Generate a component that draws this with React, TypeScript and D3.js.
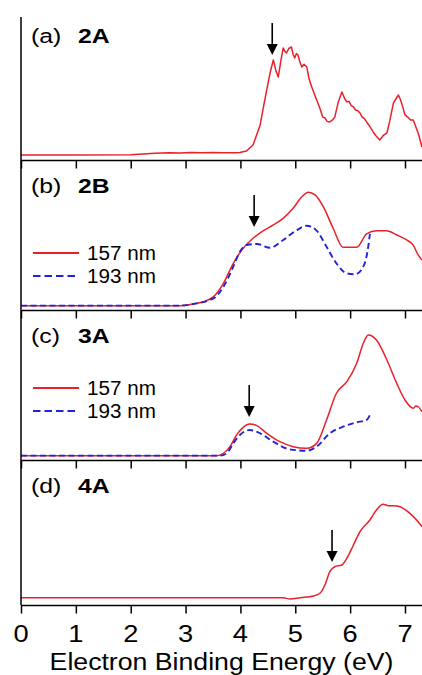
import React, { useEffect, useRef } from "react";
import * as d3 from "d3";

// photoelectron spectra: [binding energy (eV), intensity (arb. units)]
const spec2A: [number, number][] = [
  [0, 0.035], [1.0, 0.035], [2.0, 0.036], [2.44, 0.047], [2.7, 0.05], [2.9, 0.049],
  [3.1, 0.052], [3.3, 0.051], [3.5, 0.052], [3.7, 0.05], [3.9, 0.05], [3.99, 0.052],
  [4.11, 0.063], [4.23, 0.105], [4.36, 0.245], [4.42, 0.371], [4.48, 0.49], [4.54, 0.608],
  [4.6, 0.7], [4.65, 0.62], [4.69, 0.58], [4.74, 0.7], [4.78, 0.783], [4.81, 0.76],
  [4.84, 0.748], [4.88, 0.78], [4.93, 0.79], [4.96, 0.74], [4.99, 0.713], [5.02, 0.745],
  [5.05, 0.734], [5.08, 0.69], [5.12, 0.65], [5.16, 0.67], [5.21, 0.65], [5.25, 0.57],
  [5.3, 0.51], [5.34, 0.47], [5.39, 0.42], [5.45, 0.36], [5.5, 0.3], [5.54, 0.294],
  [5.58, 0.27], [5.63, 0.266], [5.68, 0.28], [5.72, 0.3], [5.78, 0.4], [5.85, 0.476],
  [5.9, 0.43], [5.94, 0.406], [5.98, 0.41], [6.02, 0.38], [6.06, 0.371], [6.1, 0.35],
  [6.14, 0.345], [6.18, 0.329], [6.22, 0.3], [6.26, 0.29], [6.3, 0.266], [6.35, 0.24],
  [6.42, 0.196], [6.47, 0.17], [6.54, 0.14], [6.6, 0.17], [6.67, 0.189], [6.72, 0.27],
  [6.79, 0.399], [6.84, 0.43], [6.88, 0.455], [6.92, 0.42], [6.96, 0.37], [7.0, 0.315],
  [7.05, 0.3], [7.1, 0.28], [7.15, 0.28], [7.19, 0.24], [7.24, 0.189], [7.31, 0.091],
];

const spec2B_157: [number, number][] = [
  [0, 0.029], [2.9, 0.029], [3.14, 0.04], [3.32, 0.055], [3.51, 0.089], [3.69, 0.178],
  [3.87, 0.311], [4.05, 0.411], [4.23, 0.478], [4.42, 0.529], [4.6, 0.567], [4.78, 0.611],
  [4.96, 0.678], [5.12, 0.755], [5.24, 0.785], [5.36, 0.767], [5.51, 0.689], [5.69, 0.545],
  [5.87, 0.418], [6.12, 0.418], [6.3, 0.507], [6.48, 0.529], [6.67, 0.529], [6.85, 0.5],
  [7.03, 0.467], [7.15, 0.433], [7.24, 0.367], [7.31, 0.333],
];

const spec2B_193: [number, number][] = [
  [0, 0.029], [2.9, 0.029], [3.14, 0.04], [3.51, 0.078], [3.69, 0.155], [3.87, 0.289],
  [3.99, 0.389], [4.11, 0.433], [4.3, 0.44], [4.54, 0.415], [4.78, 0.467], [5.03, 0.533],
  [5.21, 0.562], [5.39, 0.529], [5.57, 0.422], [5.75, 0.311], [5.94, 0.244], [6.09, 0.238],
  [6.24, 0.289], [6.33, 0.422], [6.36, 0.507],
];

const spec3A_157: [number, number][] = [
  [0, 0.029], [3.57, 0.029], [3.69, 0.045], [3.81, 0.089], [3.93, 0.167], [4.05, 0.218],
  [4.17, 0.24], [4.3, 0.229], [4.48, 0.178], [4.72, 0.122], [4.96, 0.089], [5.21, 0.078],
  [5.39, 0.111], [5.57, 0.267], [5.75, 0.445], [5.94, 0.522], [6.12, 0.645], [6.24, 0.778],
  [6.33, 0.833], [6.48, 0.8], [6.67, 0.667], [6.85, 0.511], [7.0, 0.4], [7.15, 0.345],
  [7.2, 0.36], [7.24, 0.355], [7.31, 0.322],
];

const spec3A_193: [number, number][] = [
  [0, 0.029], [3.63, 0.029], [3.75, 0.045], [3.87, 0.111], [3.99, 0.167], [4.17, 0.2],
  [4.36, 0.178], [4.6, 0.122], [4.9, 0.071], [5.21, 0.062], [5.39, 0.089], [5.63, 0.178],
  [5.87, 0.222], [6.12, 0.251], [6.3, 0.267], [6.36, 0.3],
];

const spec4A: [number, number][] = [
  [0, 0.05], [4.78, 0.05], [4.9, 0.041], [5.09, 0.05], [5.33, 0.062], [5.45, 0.081],
  [5.54, 0.138], [5.63, 0.23], [5.72, 0.264], [5.85, 0.276], [5.94, 0.322], [6.06, 0.414],
  [6.18, 0.506], [6.36, 0.586], [6.48, 0.655], [6.6, 0.694], [6.7, 0.685], [6.79, 0.685],
  [6.91, 0.678], [7.09, 0.632], [7.24, 0.574], [7.31, 0.54],
];

const panelTags = ["(a)", "(b)", "(c)", "(d)"];
const molecules = ["2A", "2B", "3A", "4A"];
const legendLabels = ["157 nm", "193 nm"];
const arrowEnergy = [4.58, 4.25, 4.16, 5.67];
const arrowTip = [0.734, 0.553, 0.287, 0.297];
const xTickLabels = [0, 1, 2, 3, 4, 5, 6, 7];

const RED = "#e8202a";
const BLUE = "#2222d8";
const FONT = "'Liberation Sans', Arial, sans-serif";

function App() {
  const ref = useRef<SVGSVGElement>(null);

  useEffect(() => {
    const svg = d3.select(ref.current);
    svg.selectAll("*").remove();

    const width = 422;
    const xMax = 7.31;
    const x = d3.scaleLinear().domain([0, xMax]).range([21, width]);

    const panels = [
      { top: 17, bottom: 160, labelY: 43, series: [{ d: spec2A, c: RED, dash: null }], legend: null },
      {
        top: 160, bottom: 310, labelY: 193,
        series: [{ d: spec2B_157, c: RED, dash: null }, { d: spec2B_193, c: BLUE, dash: "6,3.5" }],
        legend: 253,
      },
      {
        top: 310, bottom: 460, labelY: 343,
        series: [{ d: spec3A_157, c: RED, dash: null }, { d: spec3A_193, c: BLUE, dash: "6,3.5" }],
        legend: 388,
      },
      { top: 460, bottom: 605, labelY: 493, series: [{ d: spec4A, c: RED, dash: null }], legend: null },
    ];

    const stretched = (sel, tx, ty, sx = 1.16) =>
      sel.attr("transform", "translate(" + tx + "," + ty + ") scale(" + sx + ",1)");

    panels.forEach(function (p, i) {
      const y = d3.scaleLinear().domain([0, 1]).range([p.bottom, p.top]);
      const line = d3
        .line<[number, number]>()
        .x((d) => x(d[0]))
        .y((d) => y(d[1]))
        .curve(i === 0 ? d3.curveLinear : d3.curveMonotoneX);

      p.series.forEach(function (s) {
        svg
          .append("path")
          .datum(s.d)
          .attr("d", line)
          .attr("fill", "none")
          .attr("stroke", s.c)
          .attr("stroke-width", s.dash ? 1.9 : 1.5)
          .attr("stroke-dasharray", s.dash)
          .attr("stroke-linejoin", "round");
      });

      // arrow marking the feature
      const ax = x(arrowEnergy[i]);
      const tipY = y(arrowTip[i]);
      svg
        .append("line")
        .attr("x1", ax).attr("x2", ax)
        .attr("y1", tipY - 32).attr("y2", tipY - 9)
        .attr("stroke", "#000").attr("stroke-width", 1.6);
      svg
        .append("path")
        .attr("d", "M" + (ax - 5.5) + "," + (tipY - 11) + "L" + (ax + 5.5) + "," + (tipY - 11) + "L" + ax + "," + tipY + "Z")
        .attr("fill", "#000");

      // panel label
      stretched(svg.append("text"), 31, p.labelY, 1.18)
        .attr("font-family", FONT).attr("font-size", 21)
        .text(panelTags[i]);
      stretched(svg.append("text"), 78, p.labelY, 1.18)
        .attr("font-family", FONT).attr("font-size", 21).attr("font-weight", "bold")
        .text(molecules[i]);

      // legend
      if (p.legend !== null) {
        [RED, BLUE].forEach(function (c, k) {
          const ly = p.legend + k * 23;
          svg
            .append("line")
            .attr("x1", 33).attr("x2", 79)
            .attr("y1", ly).attr("y2", ly)
            .attr("stroke", c).attr("stroke-width", 2.2)
            .attr("stroke-dasharray", k === 1 ? "7.5,4" : null);
          stretched(svg.append("text"), 87, ly + 7, 1.06)
            .attr("font-family", FONT).attr("font-size", 19.5)
            .text(legendLabels[k]);
        });
      }

      // boundary line with inward ticks below it
      const g = svg.append("g").attr("transform", "translate(0," + p.bottom + ")");
      g.call(
        d3.axisBottom(x)
          .tickValues(d3.range(0, xMax, 0.2).filter((v) => Math.abs(v - Math.round(v)) > 0.01))
          .tickSize(4).tickSizeOuter(0).tickFormat(() => "")
      );
      g.call(
        d3.axisBottom(x).tickValues(xTickLabels).tickSize(8.5).tickSizeOuter(0).tickFormat(() => "")
      );
      g.selectAll("path, line").attr("stroke", "#000").attr("stroke-width", 1.5);
    });

    // left axis line
    svg
      .append("line")
      .attr("x1", 21).attr("x2", 21)
      .attr("y1", 17).attr("y2", 605)
      .attr("stroke", "#000").attr("stroke-width", 1.5);

    // tick labels and title
    xTickLabels.forEach(function (v) {
      stretched(svg.append("text"), x(v), 642, 1.16)
        .attr("font-family", FONT).attr("font-size", 23.5)
        .attr("text-anchor", "middle")
        .text(String(v));
    });
    stretched(svg.append("text"), 221.5, 670, 1.16)
      .attr("font-family", FONT).attr("font-size", 23)
      .attr("text-anchor", "middle")
      .text("Electron Binding Energy (eV)");
  }, []);

  return (
    <div style={{ position: "absolute", left: 0, top: 0 }}>
      <svg ref={ref} width={422} height={675} style={{ display: "block", background: "#fff" }} />
    </div>
  );
}

export default App;
